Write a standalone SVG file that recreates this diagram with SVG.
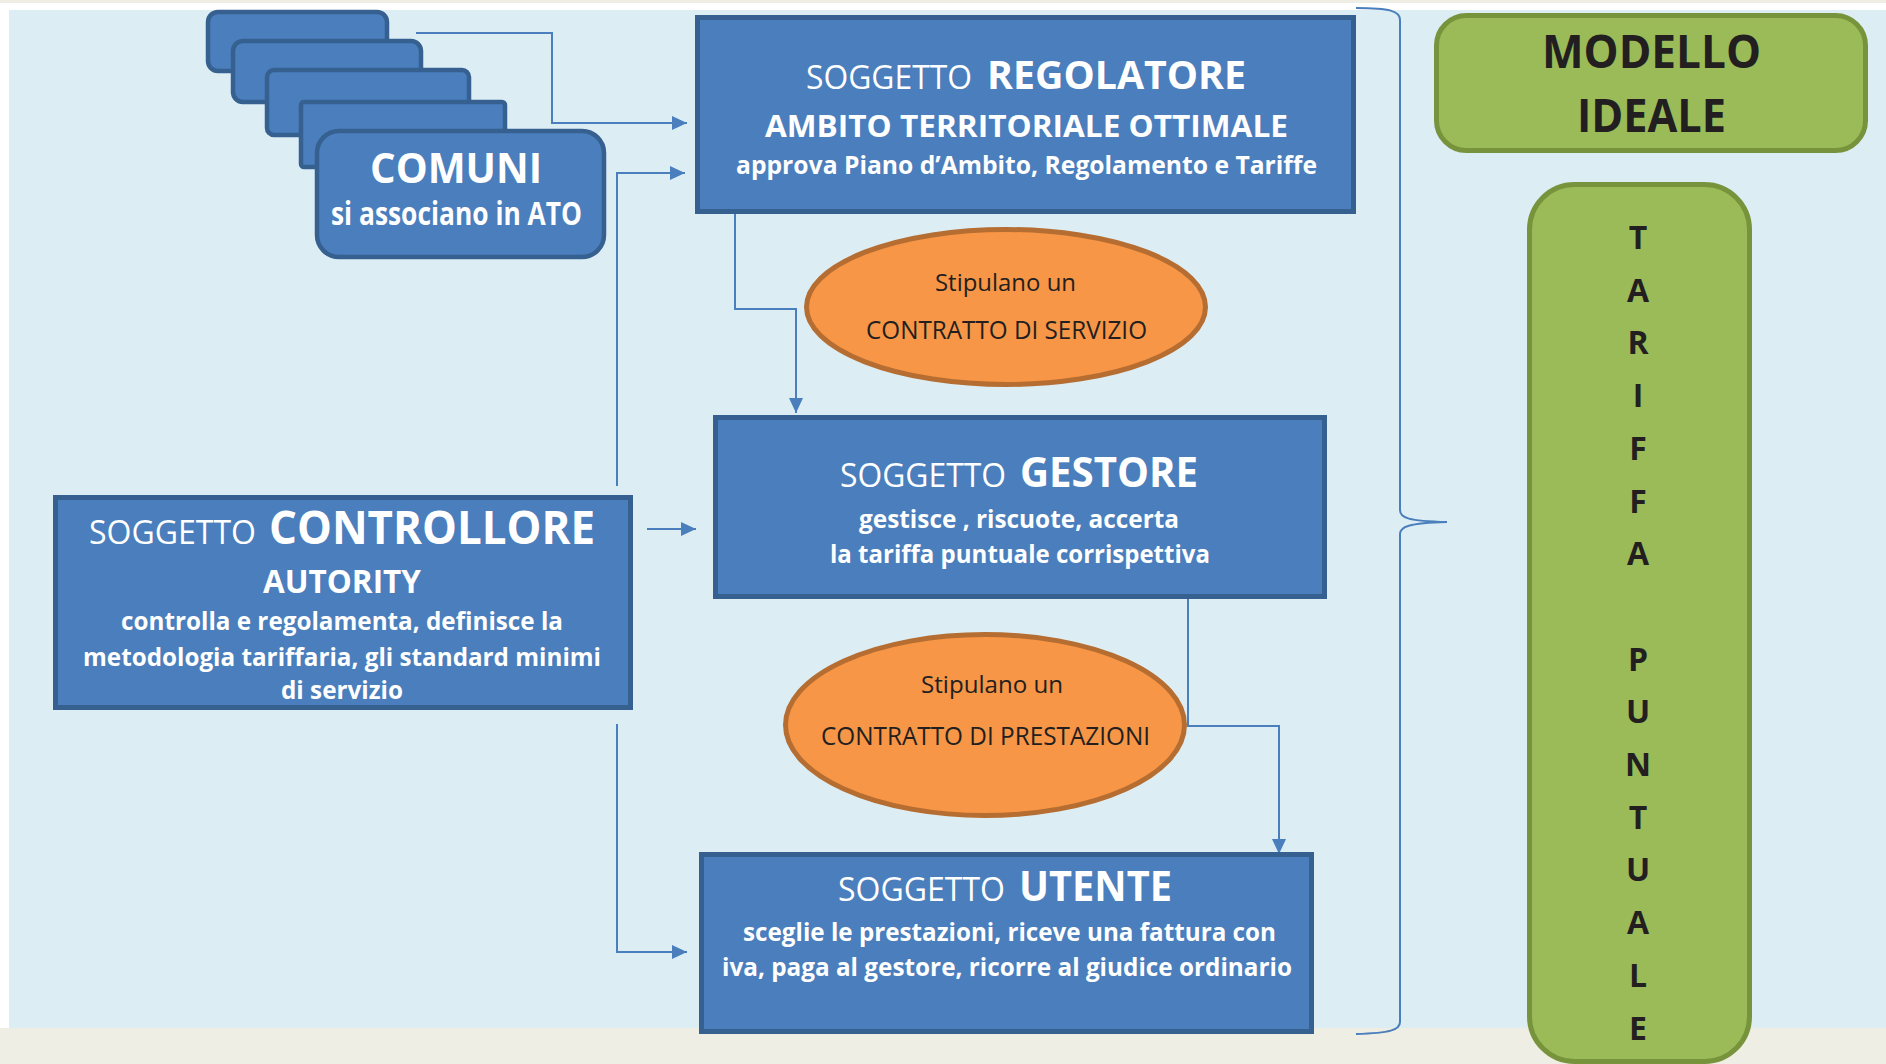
<svg xmlns="http://www.w3.org/2000/svg" width="1886" height="1064" viewBox="0 0 1886 1064">
<style>
text{font-family:"Open Sans","Liberation Sans",sans-serif;}
.box{fill:#4A7EBC;stroke:#36608F;stroke-width:5;}
.cbox{fill:#4A7EBC;stroke:#36608F;stroke-width:4.5;}
.ell{fill:#F79646;stroke:#B66D31;stroke-width:5;}
.grn{fill:#9BBB59;stroke:#77933C;stroke-width:5;}
.w{fill:#FFFFFF;}
.b{font-weight:bold;}
.k{fill:#231F20;}
.con{fill:none;stroke:#4A7EBC;stroke-width:2;}
</style>
<defs>
<marker id="arr" markerUnits="userSpaceOnUse" markerWidth="16" markerHeight="16" viewBox="0 0 16 16" refX="15" refY="8" orient="auto">
<path d="M0,1 L15,8 L0,15 Z" fill="#4A7EBC"/>
</marker>
</defs>
<rect x="0" y="0" width="1886" height="1064" fill="#FFFFFF"/>
<rect x="0" y="0" width="1886" height="3" fill="#EEEEE4"/>
<rect x="9" y="10" width="1877" height="1018" fill="#DCEEF4"/>
<rect x="0" y="1028" width="1886" height="36" fill="#EEEEE4"/>

<g id="connectors">
<polyline class="con" points="416,33 552,33 552,123 687,123" marker-end="url(#arr)"/>
<polyline class="con" points="617,486 617,173 685,173" marker-end="url(#arr)"/>
<polyline class="con" points="735,214 735,309 796,309 796,413" marker-end="url(#arr)"/>
<polyline class="con" points="647,529 696,529" marker-end="url(#arr)"/>
<polyline class="con" points="617,724 617,952 687,952" marker-end="url(#arr)"/>
<polyline class="con" points="1188,599 1188,726 1279,726 1279,854" marker-end="url(#arr)"/>
<path class="con" d="M1356,8 C1390,8 1400,11 1400,20 L1400,510 C1400,518 1408,521 1447,522 C1408,523 1400,527 1400,534 L1400,1022 C1400,1030 1390,1033 1356,1034"/>
</g>

<g id="comuni">
<rect class="cbox" x="208" y="12" width="179" height="59" rx="10"/>
<rect class="cbox" x="233" y="41" width="188" height="61" rx="10"/>
<rect class="cbox" x="267" y="70" width="202" height="65" rx="7"/>
<rect class="cbox" x="301" y="102" width="204" height="65" rx="3"/>
<rect class="cbox" x="317" y="131" width="287" height="126" rx="22"/>
<text class="w b" x="370" y="183" font-size="41" textLength="172" lengthAdjust="spacingAndGlyphs">COMUNI</text>
<text class="w b" x="331" y="225" font-size="32" textLength="251" lengthAdjust="spacingAndGlyphs">si associano in ATO</text>
</g>

<g id="regolatore">
<rect class="box" x="697.5" y="17.5" width="656" height="194"/>
<text class="w" x="806" y="89" font-size="32" textLength="166" lengthAdjust="spacingAndGlyphs">SOGGETTO</text>
<text class="w b" x="987" y="89" font-size="39" textLength="259" lengthAdjust="spacingAndGlyphs">REGOLATORE</text>
<text class="w b" x="765" y="137" font-size="30" textLength="523" lengthAdjust="spacingAndGlyphs">AMBITO TERRITORIALE OTTIMALE</text>
<text class="w b" x="736" y="174" font-size="25" textLength="581" lengthAdjust="spacingAndGlyphs">approva Piano d’Ambito, Regolamento e Tariffe</text>
</g>

<g id="contratto-servizio">
<ellipse class="ell" cx="1006" cy="307" rx="199.5" ry="77.5"/>
<text class="k" x="935" y="291" font-size="24" textLength="141" lengthAdjust="spacingAndGlyphs">Stipulano un</text>
<text class="k" x="866" y="339" font-size="25" textLength="281" lengthAdjust="spacingAndGlyphs">CONTRATTO DI SERVIZIO</text>
</g>

<g id="gestore">
<rect class="box" x="715.5" y="417.5" width="609" height="179"/>
<text class="w" x="840" y="487" font-size="33" textLength="166" lengthAdjust="spacingAndGlyphs">SOGGETTO</text>
<text class="w b" x="1020" y="487" font-size="42" textLength="178" lengthAdjust="spacingAndGlyphs">GESTORE</text>
<text class="w b" x="859" y="528" font-size="25" textLength="320" lengthAdjust="spacingAndGlyphs">gestisce , riscuote, accerta</text>
<text class="w b" x="830" y="563" font-size="25" textLength="380" lengthAdjust="spacingAndGlyphs">la tariffa puntuale corrispettiva</text>
</g>

<g id="controllore">
<rect class="box" x="55.5" y="497.5" width="575" height="210"/>
<text class="w" x="89" y="544" font-size="32" textLength="167" lengthAdjust="spacingAndGlyphs">SOGGETTO</text>
<text class="w b" x="269" y="544" font-size="46" textLength="326" lengthAdjust="spacingAndGlyphs">CONTROLLORE</text>
<text class="w b" x="263" y="593" font-size="32" textLength="158" lengthAdjust="spacingAndGlyphs">AUTORITY</text>
<text class="w b" x="121" y="630" font-size="25" textLength="442" lengthAdjust="spacingAndGlyphs">controlla e regolamenta, definisce la</text>
<text class="w b" x="83" y="666" font-size="25" textLength="518" lengthAdjust="spacingAndGlyphs">metodologia tariffaria, gli standard minimi</text>
<text class="w b" x="281" y="699" font-size="25" textLength="122" lengthAdjust="spacingAndGlyphs">di servizio</text>
</g>

<g id="contratto-prestazioni">
<ellipse class="ell" cx="985" cy="725" rx="199.5" ry="90.5"/>
<text class="k" x="921" y="693" font-size="24" textLength="142" lengthAdjust="spacingAndGlyphs">Stipulano un</text>
<text class="k" x="821" y="745" font-size="25" textLength="329" lengthAdjust="spacingAndGlyphs">CONTRATTO DI PRESTAZIONI</text>
</g>

<g id="utente">
<rect class="box" x="701.5" y="854.5" width="610" height="177"/>
<text class="w" x="838" y="901" font-size="32" textLength="167" lengthAdjust="spacingAndGlyphs">SOGGETTO</text>
<text class="w b" x="1019" y="901" font-size="41" textLength="153" lengthAdjust="spacingAndGlyphs">UTENTE</text>
<text class="w b" x="743" y="941" font-size="25" textLength="533" lengthAdjust="spacingAndGlyphs">sceglie le prestazioni, riceve una fattura con</text>
<text class="w b" x="722" y="976" font-size="25" textLength="570" lengthAdjust="spacingAndGlyphs">iva, paga al gestore, ricorre al giudice ordinario</text>
</g>

<g id="modello-ideale">
<rect class="grn" x="1436.5" y="15.5" width="429" height="135" rx="30"/>
<text class="k b" x="1542" y="68" font-size="47" textLength="219" lengthAdjust="spacingAndGlyphs">MODELLO</text>
<text class="k b" x="1577" y="132" font-size="47" textLength="149" lengthAdjust="spacingAndGlyphs">IDEALE</text>
</g>

<g id="tariffa-puntuale" text-anchor="middle">
<rect class="grn" x="1529.5" y="184.5" width="220" height="877" rx="45"/>
<text class="k b" x="1638" y="249" font-size="32">T</text>
<text class="k b" x="1638" y="301.7" font-size="32">A</text>
<text class="k b" x="1638" y="354.4" font-size="32">R</text>
<text class="k b" x="1638" y="407.1" font-size="32">I</text>
<text class="k b" x="1638" y="459.8" font-size="32">F</text>
<text class="k b" x="1638" y="512.5" font-size="32">F</text>
<text class="k b" x="1638" y="565.2" font-size="32">A</text>
<text class="k b" x="1638" y="670.6" font-size="32">P</text>
<text class="k b" x="1638" y="723.3" font-size="32">U</text>
<text class="k b" x="1638" y="776" font-size="32">N</text>
<text class="k b" x="1638" y="828.7" font-size="32">T</text>
<text class="k b" x="1638" y="881.4" font-size="32">U</text>
<text class="k b" x="1638" y="934.1" font-size="32">A</text>
<text class="k b" x="1638" y="986.8" font-size="32">L</text>
<text class="k b" x="1638" y="1039.5" font-size="32">E</text>
</g>
</svg>
